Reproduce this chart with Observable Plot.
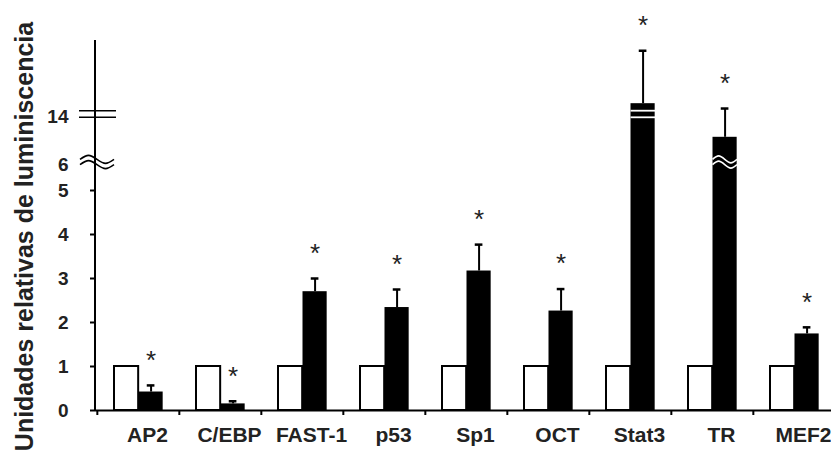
<!DOCTYPE html>
<html><head><meta charset="utf-8">
<script src="https://cdn.jsdelivr.net/npm/d3@7"></script>
<script src="https://cdn.jsdelivr.net/npm/@observablehq/plot@0.6"></script>
<style>body{margin:0;background:#fff} svg{display:block}</style>
</head><body><div id="chart"></div>
<script>
// ---- data ----
const categories = ["AP2", "C/EBP", "FAST-1", "p53", "Sp1", "OCT", "Stat3", "TR", "MEF2"];
const controlValues = [1, 1, 1, 1, 1, 1, 1, 1, 1];
const treatedValues = [0.42, 0.15, 2.70, 2.34, 3.17, 2.26, 15.9, 10.2, 1.74];
const treatedErrors = [0.15, 0.06, 0.30, 0.41, 0.60, 0.50, 9.3, 4.85, 0.15];
const yTicks = [0, 1, 2, 3, 4, 5];
const yBreakTicks = [6, 14];
const yTitle = "Unidades relativas de luminiscencia";

const data = categories.map((c, i) => ({
  cat: c, ctrl: controlValues[i], val: treatedValues[i], hi: treatedValues[i] + treatedErrors[i]
}));

// ---- layout ----
const W = 831, H = 456, mL = 95, mT = 40, mB = 46, xEnd = 836;
const bw = (xEnd - mL) / categories.length;
const wStart = 17, bStart = 41.5, bEnd = 66;          // bar offsets inside a band
const bCenter = (bStart + bEnd) / 2;
const font = "Liberation Sans, Arial, Helvetica, sans-serif";

const chart = Plot.plot({
  width: W, height: H,
  marginLeft: mL, marginRight: 0, marginTop: mT, marginBottom: mB,
  style: {fontFamily: font, fontWeight: "bold", color: "#222", background: "white"},
  x: {type: "band", domain: categories, range: [mL, xEnd], padding: 0, axis: null},
  y: {type: "linear", domain: [0, 5, 6, 14, 27], range: [H - mB, 190, 162, 114, mT], axis: null},
  marks: [
    // control (white) bars
    Plot.rectY(data, {x: "cat", y1: 0, y2: "ctrl", fill: "white", stroke: "black", strokeWidth: 2,
      insetLeft: wStart, insetRight: bw - bStart}),
    // treated (black) bars
    Plot.rectY(data, {x: "cat", y1: 0, y2: "val", fill: "black",
      insetLeft: bStart, insetRight: bw - bEnd}),
    // error bars
    Plot.ruleX(data, {x: "cat", y1: "val", y2: "hi", dx: bCenter - bw / 2, stroke: "black", strokeWidth: 2}),
    Plot.tickY(data, {x: "cat", y: "hi", stroke: "black", strokeWidth: 2.5,
      insetLeft: bCenter - 4, insetRight: bw - bCenter - 4}),
    // asterisks
    Plot.text(data, {x: "cat", y: "hi", text: () => "*", dx: bCenter - bw / 2, dy: -25,
      fontSize: 26, fontWeight: "normal", fill: "#222"}),
    // x axis line and boundary ticks
    Plot.ruleY([0], {stroke: "black", strokeWidth: 2}),
    Plot.ruleX(categories, {x: d => d, y1: 0, y2: 0, insetBottom: -5, dx: -bw / 2, stroke: "black", strokeWidth: 2}),
    // x labels
    Plot.text(categories, {x: d => d, y: 0, dy: 25, dx: 9, text: d => d, fontSize: 21, fill: "#222"}),
    // y ticks and labels
    Plot.ruleY(yTicks, {y: d => d, insetLeft: -5, insetRight: W - mL, stroke: "black", strokeWidth: 2}),
    Plot.text(yTicks, {y: d => d, text: d => String(d), frameAnchor: "left",
      textAnchor: "end", dx: -27, fontSize: 19, fill: "#222"}),
    Plot.text(yBreakTicks, {y: d => d, text: d => String(d), frameAnchor: "left",
      textAnchor: "end", dx: -27, dy: 2, fontSize: 19, fill: "#222"}),
    // y title
    Plot.text([yTitle], {frameAnchor: "left", text: d => d, rotate: -90, textAnchor: "middle",
      dx: -71, dy: 11, fontSize: 25, fill: "#222"})
  ]
});

// ---- axis line and scale-break decorations (positions from Plot's scales) ----
const ys = chart.scale("y"), xs = chart.scale("x");
const Y = v => ys.apply(v);
const svg = d3.select(chart);
const g = svg.append("g").attr("fill", "none");
g.append("line").attr("x1", mL).attr("x2", mL).attr("y1", Y(0) + 1).attr("y2", Y(27))
  .attr("stroke", "black").attr("stroke-width", 2);

const wave = (x0, x1, yc, a) => d3.line().curve(d3.curveNatural)(
  [[x0, yc], [x0 + (x1 - x0) * 0.25, yc - a], [x0 + (x1 - x0) * 0.5, yc], [x0 + (x1 - x0) * 0.75, yc + a], [x1, yc]]);

// double line at 14 on the axis
[-3.3, 3.3].forEach(o => g.append("line").attr("x1", mL - 16).attr("x2", mL + 21)
  .attr("y1", Y(14) + o).attr("y2", Y(14) + o).attr("stroke", "black").attr("stroke-width", 1.5));
// wavy break at 6 on the axis
[-2.6, 2.6].forEach(o => g.append("path").attr("d", wave(mL - 15, mL + 19, Y(6) + o, 4))
  .attr("stroke", "black").attr("stroke-width", 1.6));

// breaks inside the tall bars
const sx0 = xs.apply("Stat3") + bStart, sx1 = xs.apply("Stat3") + bEnd;
[-3.3, 3.3].forEach(o => g.append("line").attr("x1", sx0).attr("x2", sx1)
  .attr("y1", Y(14) + o).attr("y2", Y(14) + o).attr("stroke", "white").attr("stroke-width", 1.8));
const tx0 = xs.apply("TR") + bStart, tx1 = xs.apply("TR") + bEnd;
[-2.6, 2.6].forEach(o => g.append("path").attr("d", wave(tx0, tx1, Y(6) + o, 3.5))
  .attr("stroke", "white").attr("stroke-width", 1.6));

document.getElementById("chart").appendChild(chart);
</script>
</body></html>
